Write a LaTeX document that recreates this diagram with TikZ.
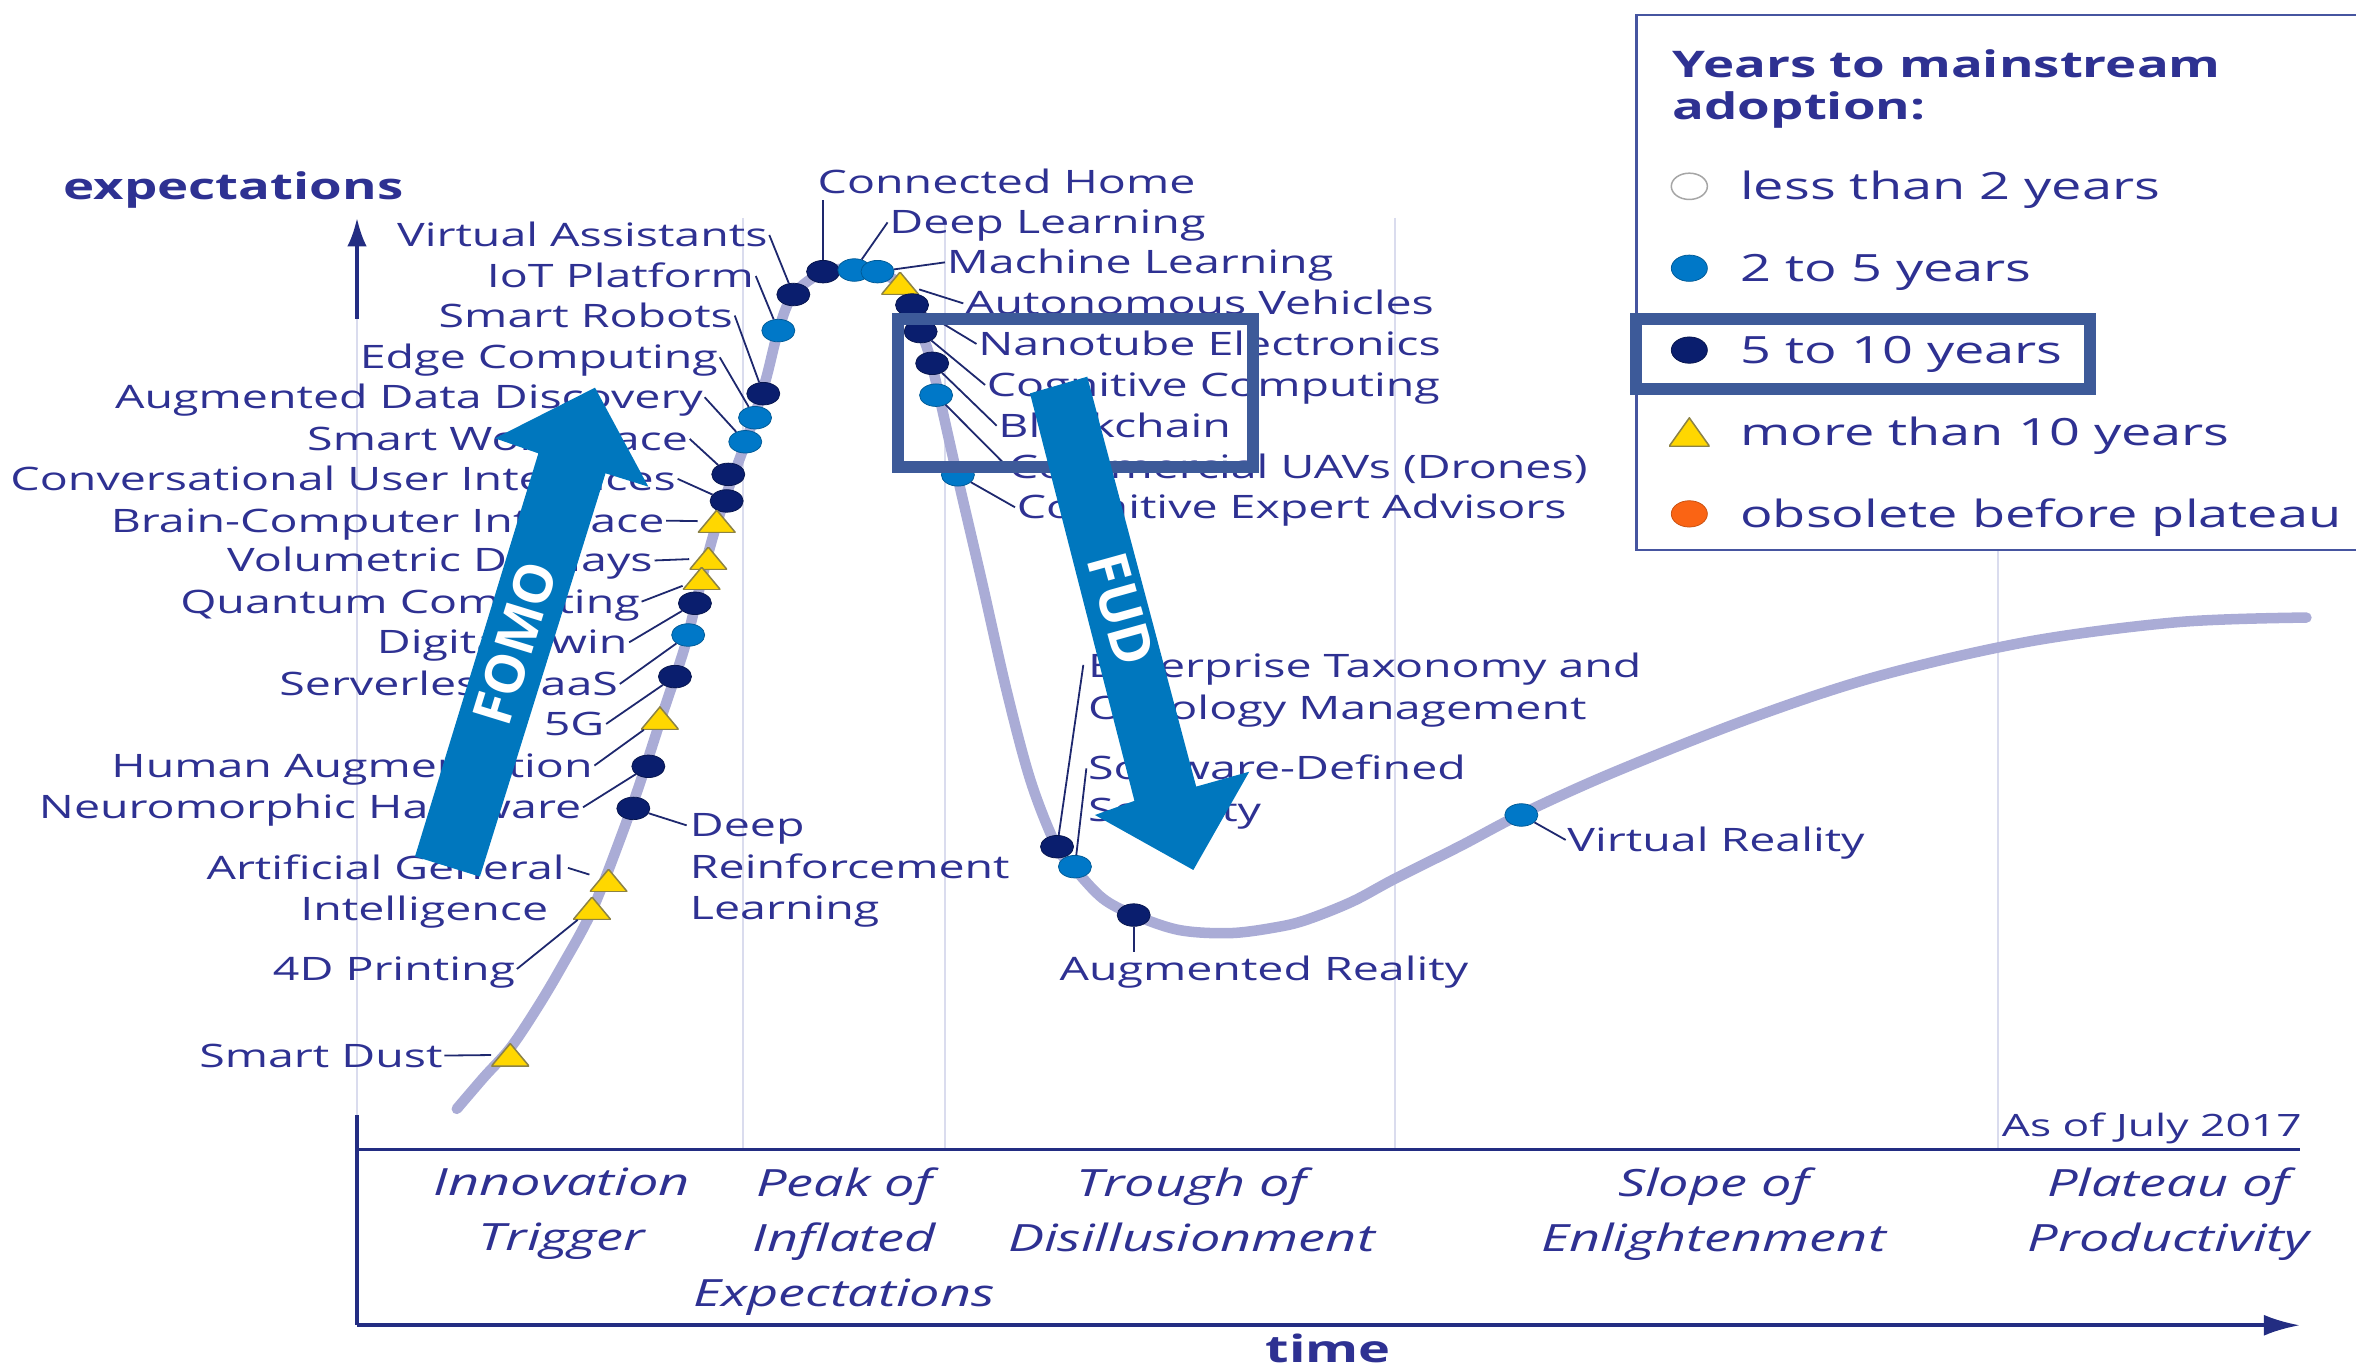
\documentclass[tikz,border=0pt]{standalone}
\usepackage{fontspec}
\setmainfont{Open Sans}[FakeStretch=1.44]
\newfontfamily\arrowfont{Open Sans}
\usetikzlibrary{arrows.meta,shapes.geometric}

\definecolor{txtblue}{RGB}{46,49,146}
\definecolor{axisblue}{RGB}{35,45,130}
\definecolor{leadercol}{RGB}{30,40,110}
\definecolor{curvecol}{RGB}{170,172,214}
\definecolor{gridcol}{RGB}{218,220,238}
\definecolor{darkdot}{RGB}{10,30,110}
\definecolor{bluedot}{RGB}{0,120,200}
\definecolor{triyellow}{RGB}{255,215,0}
\definecolor{triline}{RGB}{140,130,70}
\definecolor{orangedot}{RGB}{250,100,20}
\definecolor{arrowblue}{RGB}{0,119,190}
\definecolor{hlbox}{RGB}{61,90,153}
\definecolor{legendcol}{RGB}{70,85,160}

\begin{document}
\begin{tikzpicture}[x=1pt,y=-1pt,
    every node/.style={text=txtblue},
    lbl/.style={font=\fontsize{21.5}{27}\selectfont, inner sep=1pt, text height=18pt, text depth=2.65pt},
    mlbl/.style={font=\fontsize{21.5}{27.5}\selectfont, inner sep=0pt},
    dk/.style={ellipse, minimum width=22pt, minimum height=15pt, inner sep=0pt, fill=darkdot, draw=darkdot!70!black, line width=.5pt},
    bl/.style={dk, fill=bluedot, draw=bluedot!75!black},
    tr/.style={rectangle, minimum width=25pt, minimum height=15pt, inner sep=0pt,
      path picture={\filldraw[fill=triyellow, draw=triline, line width=1pt]
        (path picture bounding box.south west) -- (path picture bounding box.south east)
        -- (path picture bounding box.north) -- cycle;}},
    leader/.style={draw=leadercol, line width=1.2pt},
    phase/.style={font=\itshape\fontsize{25}{36.5}\selectfont, align=center, anchor=north, inner sep=0pt},
    leg/.style={font=\fontsize{25}{30}\selectfont, anchor=west, inner sep=0pt, text height=20.9pt, text depth=3pt},
    gridline/.style={draw=gridcol, line width=1.5pt},
    axis/.style={draw=axisblue, line width=2.4pt},
    hl/.style={draw=hlbox, line width=8pt},
    bigarrow/.style={fill=arrowblue},
    arrowtxt/.style={text=white, inner sep=0pt}
  ]
\useasboundingbox (0,0) rectangle (1568,911);

% phases
\foreach \xp in {494.7,629,928.5,1329.5}
  \draw[gridline] (\xp,145) -- (\xp,765);
\draw[gridline] (237.6,212) -- (237.6,742);

% axes
\draw[axis,-{Latex[length=19pt,width=13pt]}] (237.6,212) -- (237.6,145);
\draw[axis] (237.6,742) -- (237.6,882);
\draw[axis] (237.6,765) -- (1530.6,765);
\draw[axis,-{Latex[length=24pt,width=14pt]}] (237.6,882) -- (1530.6,882);

% hype curve
\draw[curvecol, line width=7pt, line cap=round] plot[smooth, tension=.55] coordinates {
  (304,738) (322,717) (340,697) (358,670) (374,643) (394,606) (414,555) (428,515)
  (441,475) (455,433) (462,406) (472,366) (482,333) (496,295) (509,255) (518,220)
  (528,196) (548,181) (568,179) (584,181) (599,189) (607,203) (613,221) (620,242)
  (636,312) (653,385) (670,460) (686,520) (703,563) (715,578) (734,598) (755,609)
  (785,619) (819,621) (850,617) (870,612) (900,600) (928,585) (972,563)
  (1012,542) (1074,514) (1165,478) (1250,450) (1350,427) (1450,414) (1535,411)};

% technologies on the rise
\node[dk] (va)    at (528,196)   {};
\node[bl] (iot)   at (518,220)   {};
\node[dk] (srob)  at (508,262)   {};
\node[bl] (edge)  at (502.5,278) {};
\node[bl] (add)   at (496,294)   {};
\node[dk] (sws)   at (484.7,315.7) {};
\node[dk] (cui)   at (483.6,333.4) {};
\node[tr] (bci)   at (477,347)   {};
\node[tr] (vold)  at (471.4,371.6) {};
\node[tr] (qc)    at (467,385)   {};
\node[dk] (dtw)   at (462.5,401.5) {};
\node[bl] (spaas) at (458,422.6) {};
\node[dk] (fiveg) at (449.2,450.3) {};
\node[tr] (hum)   at (439.2,478) {};
\node[dk] (nh)    at (431.5,510) {};
\node[dk] (drl)   at (421.5,538) {};
\node[tr] (agi)   at (405,586)   {};
\node[tr] (fourd) at (394,604.5) {};
\node[tr] (sdust) at (339.6,702) {};

\node[lbl, anchor=east] (va-l)    at (512,156.4) {Virtual Assistants};
\node[lbl, anchor=east] (iot-l)   at (503,183.7) {IoT Platform};
\node[lbl, anchor=east] (srob-l)  at (489,210)   {Smart Robots};
\node[lbl, anchor=east] (edge-l)  at (479,237.8) {Edge Computing};
\node[lbl, anchor=east] (add-l)   at (469,264.4) {Augmented Data Discovery};
\node[lbl, anchor=east] (sws-l)   at (459,292.1) {Smart Workspace};
\node[lbl, anchor=east] (cui-l)   at (451,318.7) {Conversational User Interfaces};
\node[lbl, anchor=east] (bci-l)   at (443.4,346.5) {Brain-Computer Interface};
\node[lbl, anchor=east] (vold-l)  at (435.6,373) {Volumetric Displays};
\node[lbl, anchor=east] (qc-l)    at (427,400.4) {Quantum Computing};
\node[lbl, anchor=east] (dtw-l)   at (418.7,427.5) {Digital Twin};
\node[lbl, anchor=east] (spaas-l) at (412.5,455.2) {Serverless PaaS};
\node[lbl, anchor=east] (fiveg-l) at (403.4,481.8) {5G};
\node[lbl, anchor=east] (hum-l)   at (395.6,509.5) {Human Augmentation};
\node[lbl, anchor=east] (nh-l)    at (388,537.3) {Neuromorphic Hardware};
\node[mlbl, anchor=north east, align=right] (agi-l) at (376,568.6) {Artificial General\\Intelligence\hspace*{11pt}};
\node[lbl, anchor=east] (fourd-l) at (344,644.9) {4D Printing};
\node[lbl, anchor=east] (sdust-l) at (295.7,702.5) {Smart Dust};
\node[mlbl, anchor=north west, align=left] (drl-l) at (459,541.3) {Deep\\Reinforcement\\Learning};

\path[leader] (va-l.east)    edge (va)
              (iot-l.east)   edge (iot)
              (srob-l.east)  edge (srob)
              (edge-l.east)  edge (edge)
              (add-l.east)   edge (add)
              (sws-l.east)   edge (sws)
              (cui-l.east)   edge (cui)
              (bci-l.east)   edge (bci)
              (vold-l.east)  edge (vold)
              (qc-l.east)    edge (qc)
              (dtw-l.east)   edge (dtw)
              (spaas-l.east) edge (spaas)
              (fiveg-l.east) edge (fiveg)
              (hum-l.east)   edge (hum)
              (nh-l.east)    edge (nh)
              ([xshift=2pt,yshift=-9pt]agi-l.north east) edge (agi)
              (fourd-l.east) edge (fourd)
              (sdust-l.east) edge (sdust)
              (drl) edge ([xshift=-2pt,yshift=-8pt]drl-l.north west);

% peak
\node[dk] (ch)    at (547.8,180.8) {};
\node[bl] (dl)    at (568.6,179.7) {};
\node[bl] (ml)    at (584,180.8) {};
\node[tr] (av)    at (599,188.6) {};
\node[dk] (nano)  at (607,203)   {};
\node[dk] (cogc)  at (612.7,220.7) {};
\node[dk] (bchain) at (620.4,241.8) {};
\node[bl] (uav)   at (623,263)   {};
\node[bl] (cea)   at (637.5,316) {};

\node[lbl, anchor=west] (ch-l)     at (543,121.3) {Connected Home};
\node[lbl, anchor=west] (dl-l)     at (590.7,148) {Deep Learning};
\node[lbl, anchor=west] (ml-l)     at (628.9,174.6) {Machine Learning};
\node[lbl, anchor=west] (av-l)     at (641.1,201.9) {Autonomous Vehicles};
\node[lbl, anchor=west] (nano-l)   at (649.9,228.9) {Nanotube Electronics};
\node[lbl, anchor=west] (cogc-l)   at (655.6,256.2) {Cognitive Computing};
\node[lbl, anchor=west] (bchain-l) at (663.3,283.3) {Blockchain};
\node[lbl, anchor=west] (uav-l)    at (670.2,310.5) {Commercial UAVs (Drones)};
\node[lbl, anchor=west] (cea-l)    at (675.5,337.6) {Cognitive Expert Advisors};

\path[leader] (ch)     edge (ch |- ch-l.south)
              (dl)     edge (dl-l.west)
              (ml)     edge (ml-l.west)
              (av)     edge (av-l.west)
              (nano)   edge (nano-l.west)
              (cogc)   edge (cogc-l.west)
              (bchain) edge (bchain-l.west)
              (uav)    edge (uav-l.west)
              (cea)    edge (cea-l.west);

% trough and slope
\node[dk] (etom) at (703.5,563.5) {};
\node[bl] (sds)  at (715.4,576.8) {};
\node[dk] (ar)   at (754.5,609)   {};
\node[bl] (vr)   at (1012.5,542.4) {};

\node[mlbl, anchor=north west, align=left] (etom-l) at (724,434.5) {Enterprise Taxonomy and\\Ontology Management};
\node[mlbl, anchor=north west, align=left] (sds-l)  at (724,502.4) {Software-Defined\\Security};
\node[lbl, anchor=west] (ar-l) at (704,645) {Augmented Reality};
\node[lbl, anchor=west] (vr-l) at (1042,559) {Virtual Reality};

\path[leader] (etom) edge ([xshift=-3pt,yshift=-8pt]etom-l.north west)
              (sds)  edge ([xshift=-1pt,yshift=-9pt]sds-l.north west)
              (ar)   edge (ar |- ar-l.north)
              (vr)   edge (vr-l.west);

% axis texts
\node[font=\bfseries\fontsize{24.4}{30}\selectfont, anchor=base west, inner sep=0pt] (ylab) at (42,133) {expectations};
\node[font=\bfseries\fontsize{25}{30}\selectfont, anchor=base, inner sep=0pt] (xlab) at (884,907) {time};
\node[font=\fontsize{20.5}{24}\selectfont, anchor=base east, inner sep=0pt] (asof) at (1532,756.5) {As of July 2017};

\node[phase] (ph1) at (374,777)    {Innovation\\Trigger};
\node[phase] (ph2) at (561.8,777)  {Peak of\\Inflated\\Expectations};
\node[phase] (ph3) at (793,777)    {Trough of\\Disillusionment};
\node[phase] (ph4) at (1140.4,777) {Slope of\\Enlightenment};
\node[phase] (ph5) at (1443.2,777) {Plateau of\\Productivity};

% legend
\draw[draw=legendcol, line width=1.8pt, fill=white] (1089,10) rectangle (1580,366);
\node[font=\bfseries\fontsize{24.4}{27.5}\selectfont, align=left, anchor=north west, inner sep=0pt] (leg-t) at (1113,33) {Years to mainstream\\adoption:};
\node[dk, minimum width=24pt, minimum height=17.5pt, fill=white, draw=gray!70, line width=1pt] (m1) at (1124.3,124) {};
\node[bl, minimum width=24pt, minimum height=17.5pt] (m2) at (1124.3,178.5) {};
\node[dk, minimum width=24pt, minimum height=17.5pt] (m3) at (1124.3,233) {};
\node[tr, minimum width=27pt, minimum height=19pt]   (m4) at (1124.3,287.6) {};
\node[dk, minimum width=24pt, minimum height=17.5pt, fill=orangedot, draw=orangedot!80!black] (m5) at (1124.3,342) {};
\node[leg] (t1) at (1158,124)   {less than 2 years};
\node[leg] (t2) at (1158,178.5) {2 to 5 years};
\node[leg] (t3) at (1158,233)   {5 to 10 years};
\node[leg] (t4) at (1158,287.6) {more than 10 years};
\node[leg] (t5) at (1158,342)   {obsolete before plateau};

% highlights
\draw[hl] (597.5,212.5) rectangle (834,311);
\draw[hl] (1089,212) rectangle (1391,259);

\fill[bigarrow] (276.2,570) -- (358.3,301.7) -- (329.4,291.7) -- (396,258)
  -- (431.5,323.9) -- (403,315) -- (319.4,583.4) -- cycle;
\node[arrowtxt, rotate=72.9, font=\arrowfont\bfseries\fontsize{36}{36}\selectfont] (fomo) at (342.7,428) {FOMO};
\fill[bigarrow] (685.5,261.8) -- (755,533) -- (728.7,542.4) -- (794.2,579)
  -- (831.4,513.6) -- (796.1,523.5) -- (723.6,250.7) -- cycle;
\node[arrowtxt, rotate=-74.5, font=\arrowfont\bfseries\fontsize{37}{37}\selectfont] (fud) at (746,405.4) {FUD};
\end{tikzpicture}
\end{document}
